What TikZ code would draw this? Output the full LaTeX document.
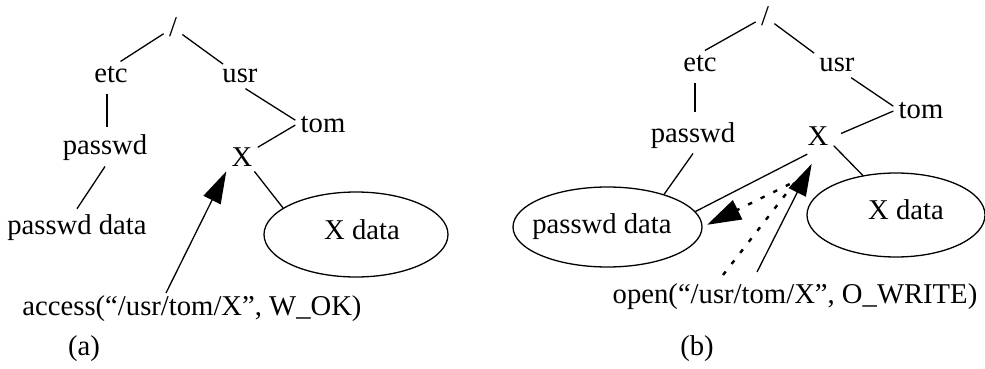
\documentclass[tikz,border=0pt]{standalone}
\usepackage{fontspec}
\setmainfont{Liberation Serif}
\usetikzlibrary{shapes.geometric,arrows.meta,calc}
\begin{document}
\begin{tikzpicture}[x=0.5pt,y=-0.5pt,
  lbl/.style={font=\fontsize{14.33}{17}\selectfont, inner sep=2.5pt, anchor=base},
  edge/.style={line width=0.65pt},
  oval/.style={ellipse, draw, line width=0.65pt, inner sep=0pt},
  solidarrow/.style={line width=0.65pt, -{Triangle[length=16pt,width=9.5pt]}},
  dotarrow/.style={line width=1.2pt, dash pattern=on 2.2pt off 4.8pt, -{Triangle[length=17pt,width=10.5pt]}}]
\useasboundingbox (0,0) rectangle (985,369);

% ---------- panel (a) ----------
\node[lbl] (sa) at (173,37) {/};
\node[lbl] (ea) at (111,83) {etc};
\node[lbl] (ua) at (240,83) {usr};
\node[lbl] (ta) at (323,133) {tom};
\node[lbl] (pa) at (105,155) {passwd};
\node[lbl] (xa) at (242,166) {X};
\node[lbl] (pda) at (77,234) {passwd data};
\node[oval, minimum width=92pt, minimum height=42.5pt] (xda) at (356,234.5) {};
\node[lbl] (xdta) at (362,239) {X data};
\node[lbl] (acc) at (192,315) {access(“/usr/tom/X”, W\_OK)};
\node[lbl] (capa) at (84,355) {(a)};
\coordinate (acc0) at (166,293);

\draw[edge] (ea.55) -- (sa);
\draw[edge] (sa) -- (ua);
\draw[edge, shorten <=2.5pt, shorten >=1.25pt] ([xshift=-2pt]ea.south) -- ([xshift=1pt]pa.north);
\draw[edge] (ua.-66) -- (ta.170);
\draw[edge] (ta.west) -- (xa);
\draw[edge] (pa.south) -- (pda.north);
\draw[edge] (xa.-50) -- (xda.160);
\draw[solidarrow] (acc0) -- (xa.south west);

% ---------- panel (b) ----------
\node[lbl] (sb) at (765,26) {/};
\node[lbl] (eb) at (700,72) {etc};
\node[lbl] (ub) at (837,72) {usr};
\node[lbl] (tb) at (921,119) {tom};
\node[lbl] (pb) at (693,142) {passwd};
\node[lbl] (xb) at (818,146) {X};
\node[oval, minimum width=94.5pt, minimum height=40pt] (pdb) at (607.5,227) {};
\node[lbl] (pdtb) at (602,233) {passwd data};
\node[oval, minimum width=89pt, minimum height=42pt] (xdb) at (896,215) {};
\node[lbl] (xdtb) at (906,220) {X data};
\node[lbl] (opn) at (795,303) {open(“/usr/tom/X”, O\_WRITE)};
\node[lbl] (capb) at (697,355) {(b)};
\coordinate (opn0) at (757,272);
\coordinate (dot0) at (723,275);
\coordinate (bend) at (796,181);

\draw[edge] (eb.70) -- (sb);
\draw[edge] (sb) -- (ub.north west);
\draw[edge, shorten <=2.5pt, shorten >=2.25pt] ([xshift=-2.5pt]eb.south) -- ([xshift=1pt]pb.north);
\draw[edge] (ub.-41) -- (tb.170);
\draw[edge, shorten >=4pt] (tb.west) -- (xb.east);
\draw[edge] (pb.south) -- (pdb.30);
\draw[edge] (xb.-30) -- (xdb.130);
\draw[edge, shorten <=3pt] (xb.-110) -- (pdb.10);
\draw[solidarrow, shorten >=7pt] (opn0) -- (xb.south);
\draw[dotarrow, shorten >=2.5pt] (dot0) -- (bend) -- (pdb.east);
\end{tikzpicture}
\end{document}
